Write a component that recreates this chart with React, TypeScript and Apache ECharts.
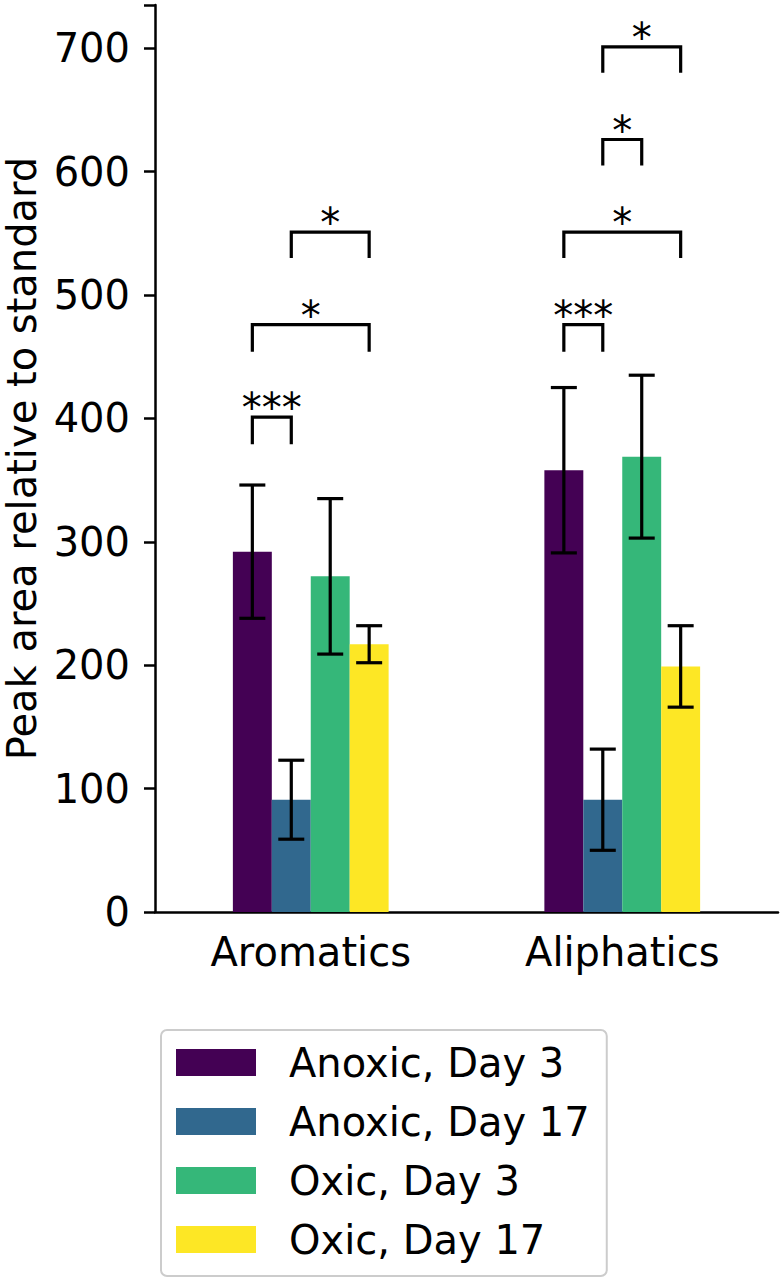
import React, { useEffect, useRef } from "react";
import * as echarts from "echarts";

// ---------- data ----------
const categories = ["Aromatics", "Aliphatics"];
const seriesNames = ["Anoxic, Day 3", "Anoxic, Day 17", "Oxic, Day 3", "Oxic, Day 17"];

const anoxicDay3 = [292, 358];
const anoxicDay17 = [91, 91];
const oxicDay3 = [272, 369];
const oxicDay17 = [217, 199];

const anoxicDay3Err = [54, 67];
const anoxicDay17Err = [32, 41];
const oxicDay3Err = [63, 66];
const oxicDay17Err = [15, 33];

const yTicks = [0, 100, 200, 300, 400, 500, 600, 700];

// significance brackets: [category index, bar a, bar b, leg bottom, bracket top]
const bracketPositions = [
  [0, 0, 1, 379, 401],
  [0, 0, 3, 454, 476],
  [0, 1, 3, 530, 551],
  [1, 0, 1, 454, 476],
  [1, 0, 3, 530, 551],
  [1, 1, 2, 605, 626],
  [1, 1, 3, 680, 701],
];
const bracketLabels = ["***", "*", "*", "***", "*", "*", "*"];

// ---------- style ----------
const colors = ["#440154", "#31688e", "#35b779", "#fde725"];
const FONT = "DejaVu Sans";
const FS = 40;
const BAR_FRAC = 0.125;

const App: React.FC = () => {
  const ref = useRef<HTMLDivElement>(null);

  useEffect(() => {
    if (!ref.current) return;
    const chart = echarts.init(ref.current, null, { renderer: "svg" });

    const means = [anoxicDay3, anoxicDay17, oxicDay3, oxicDay17];
    const errs = [anoxicDay3Err, anoxicDay17Err, oxicDay3Err, oxicDay17Err];

    const errData: number[][] = [];
    means.forEach((m, s) => {
      m.forEach((v, c) => {
        errData.push([c, s, v - errs[s][c], v + errs[s][c]]);
      });
    });

    const barSeries = seriesNames.map((name, i) => ({
      name,
      type: "bar",
      data: means[i],
      barWidth: "12.5%",
      barGap: "0%",
      itemStyle: { color: colors[i] },
      emphasis: { disabled: true },
      z: 2,
    }));

    const option: any = {
      animation: false,
      grid: {
        left: 155,
        right: 4,
        top: 5,
        bottom: 371,
        containLabel: false,
        outerBoundsMode: "none",
      },
      xAxis: {
        type: "category",
        data: categories,
        axisLine: { lineStyle: { color: "#000", width: 2.5 } },
        axisTick: { alignWithLabel: true, length: 11, lineStyle: { color: "#000", width: 2.5 } },
        axisLabel: { fontSize: FS, fontFamily: FONT, color: "#000", margin: 20 },
        splitLine: { show: false },
      },
      yAxis: {
        type: "value",
        min: 0,
        max: 735,
        interval: 100,
        name: "Peak area relative to standard",
        nameLocation: "middle",
        nameGap: 113,
        nameRotate: 90,
        nameTextStyle: { fontSize: FS, fontFamily: FONT, color: "#000" },
        axisLine: { show: true, lineStyle: { color: "#000", width: 2.5 } },
        axisTick: { show: true, length: 11, lineStyle: { color: "#000", width: 2.5 } },
        axisLabel: {
          fontSize: FS,
          fontFamily: FONT,
          color: "#000",
          margin: 25,
          formatter: (v: number) => (yTicks.includes(v) ? String(v) : ""),
        },
        splitLine: { show: false },
      },
      legend: {
        orient: "vertical",
        left: 161,
        top: 1030,
        data: seriesNames,
        icon: "rect",
        itemWidth: 80,
        itemHeight: 27,
        itemGap: 14,
        padding: [10, 17, 14, 15],
        borderColor: "#cccccc",
        borderWidth: 2,
        borderRadius: 6,
        selectedMode: false,
        textStyle: {
          fontSize: FS,
          fontFamily: FONT,
          color: "#000",
          lineHeight: 45,
          padding: [0, 0, 0, 28],
        },
      },
      series: [
        ...barSeries,
        {
          type: "custom",
          name: "errors",
          data: errData,
          encode: { x: 0, y: [2, 3] },
          z: 5,
          renderItem: (params: any, api: any) => {
            const cat = api.value(0);
            const s = api.value(1);
            const bw = api.size([1, 0])[0] * BAR_FRAC;
            const lo = api.coord([cat, api.value(2)]);
            const hi = api.coord([cat, api.value(3)]);
            const x = lo[0] + (s - 1.5) * bw;
            const st = { stroke: "#000", lineWidth: 3.2 };
            return {
              type: "group",
              children: [
                { type: "line", shape: { x1: x, y1: lo[1], x2: x, y2: hi[1] }, style: st },
                { type: "line", shape: { x1: x - 13, y1: lo[1], x2: x + 13, y2: lo[1] }, style: st },
                { type: "line", shape: { x1: x - 13, y1: hi[1], x2: x + 13, y2: hi[1] }, style: st },
              ],
            };
          },
        },
        {
          type: "custom",
          name: "brackets",
          data: bracketPositions,
          encode: { x: 0, y: [3, 4] },
          z: 5,
          clip: false,
          renderItem: (params: any, api: any) => {
            const cat = api.value(0);
            const a = api.value(1);
            const b = api.value(2);
            const bw = api.size([1, 0])[0] * BAR_FRAC;
            const lo = api.coord([cat, api.value(3)]);
            const hi = api.coord([cat, api.value(4)]);
            const xa = lo[0] + (a - 1.5) * bw;
            const xb = lo[0] + (b - 1.5) * bw;
            return {
              type: "group",
              children: [
                {
                  type: "polyline",
                  shape: { points: [[xa, lo[1]], [xa, hi[1]], [xb, hi[1]], [xb, lo[1]]] },
                  style: { stroke: "#000", lineWidth: 3.2, fill: null, lineJoin: "miter" },
                },
                {
                  type: "text",
                  x: (xa + xb) / 2,
                  y: hi[1] - 9,
                  style: {
                    text: bracketLabels[params.dataIndex],
                    fontSize: FS,
                    fontFamily: FONT,
                    fill: "#000",
                    align: "center",
                    verticalAlign: "middle",
                  },
                },
              ],
            };
          },
        },
      ],
    };

    chart.setOption(option);
    return () => chart.dispose();
  }, []);

  return (
    <div
      ref={ref}
      style={{ position: "absolute", left: 0, top: 0, width: 782, height: 1283, background: "#fff" }}
    />
  );
};

export default App;
